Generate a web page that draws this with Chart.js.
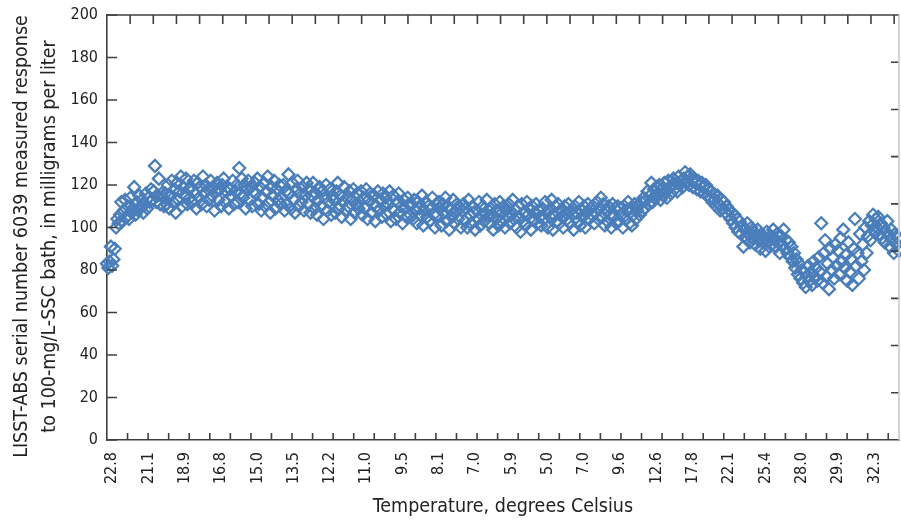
<!DOCTYPE html>
<html>
<head>
<meta charset="utf-8">
<script src="https://cdn.jsdelivr.net/npm/chart.js@4"></script>
<style>
  html, body { margin: 0; padding: 0; background: #fff; }
</style>
</head>
<body>
<canvas id="chart" width="901" height="520"></canvas>
<script>
// temperature labels shown under the axis (every labelEvery-th reading)
const tempLabels = ['22.8', '21.1', '18.9', '16.8', '15.0', '13.5', '12.2', '11.0', '9.5', '8.1', '7.0',
    '5.9', '5.0', '7.0', '9.6', '12.6', '17.8', '22.1', '25.4', '28.0', '29.9', '32.3']

// measured response, mg/L, in reading order
const response = [
    83, 81, 84, 91, 82, 85, 90, 100, 104, 102,
    106, 112, 103, 108, 113, 105, 110, 104, 114, 107,
    109, 119, 106, 112, 108, 115, 110, 113, 107, 111, 116, 109, 114, 112, 118,
    113, 117, 129, 112, 115, 123, 111, 116, 114, 110,
    116, 111, 120, 109, 115, 122, 112, 118, 107, 121, 113, 117, 124, 110, 119, 115, 123, 111, 118, 114,
    119, 112, 122, 116, 109, 121, 114, 119, 111, 124, 116, 120, 110, 118, 113, 122, 115, 119, 108, 117,
    121, 113, 118, 110, 120, 123, 112, 117, 119, 109, 118, 115, 122, 111, 117,
    120, 112, 128, 116, 123, 114, 120, 109, 118, 122, 113, 119, 110, 117, 121,
    116, 123, 111, 119, 108, 114, 121, 110, 117, 124, 112, 107, 119, 115, 122, 109, 118, 113, 120, 111,
    114, 120, 108, 117, 111, 125, 116, 109, 121, 113, 107, 118, 122, 110, 116, 112, 119, 108, 115, 121,
    111, 118, 107, 115, 121, 109, 116, 106, 113, 119, 110, 117, 104, 114, 120, 108, 112, 118, 106, 115,
    113, 107, 117, 121, 109, 115, 105, 112, 119, 108, 114, 110, 117, 104, 113, 118, 107, 111, 116, 109,
    112, 117, 106, 114, 109, 118, 104, 113, 116, 107, 111, 115, 103, 110, 117, 108, 113, 105, 116, 110,
    114, 106, 111, 117, 103, 109, 115, 108, 104, 112, 116, 107, 110, 102, 113, 109, 105, 114, 111, 106,
    111, 104, 113, 108, 102, 112, 109, 106, 115, 101, 108, 112, 105, 110, 103, 109, 114, 106, 100, 111,
    106, 112, 109, 101, 111, 107, 114, 103, 110, 99, 108, 105, 113, 102, 107, 111, 104, 109, 100, 108,
    111, 103, 109, 100, 113, 106, 102, 110, 107, 99, 108, 104, 112, 101, 106, 110, 103, 107, 113, 105,
    102, 109, 106, 99, 111, 104, 108, 101, 112, 103, 107, 110, 100, 108, 105, 111, 102, 106, 113, 104,
    108, 100, 110, 105, 98, 111, 103, 107, 101, 112, 106, 109, 99, 110, 104, 107, 111, 102, 108, 105,
    101, 109, 104, 112, 107, 100, 108, 105, 113, 99, 106, 110, 103, 111, 102, 108, 105, 100, 110, 107,
    104, 111, 102, 108, 106, 99, 110, 107, 103, 112, 101, 108, 105, 110, 100, 107, 111, 104, 109, 106,
    110, 102, 107, 112, 104, 109, 114, 105, 111, 101, 108, 103, 110, 106, 100, 111, 105, 109, 102, 110,
    103, 109, 106, 100, 110, 104, 108, 112, 102, 109, 101, 106, 111, 104, 108,
    110, 106, 112, 108, 114, 109, 113, 117, 111, 115, 121, 112, 118, 114, 119,
    116, 120, 113, 118, 115, 121, 117, 114, 122, 119, 116, 120, 123, 118, 121, 117, 124, 120, 122, 119,
    123, 126, 121, 124, 120, 125, 122, 119, 123, 121, 118, 122, 120, 117, 121,
    119, 116, 120, 115, 118, 114, 117, 112, 116, 113, 110, 115, 111, 108, 113, 109, 112, 107, 110, 106,
    108, 104, 107, 102, 106, 100, 104, 98, 103, 97, 101, 91, 99, 95, 102,
    97, 93, 100, 95, 98, 92, 96, 99, 94, 90, 97, 93, 95, 89, 98, 94, 91, 96, 92, 99,
    95, 91, 97, 93, 88, 96, 92, 99, 90, 94, 88, 93, 86, 91, 84,
    88, 81, 85, 78, 83, 76, 80, 74, 79, 72, 77, 82, 75, 79, 73, 84, 77, 81, 75, 86,
    79, 102, 74, 88, 94, 77, 83, 71, 90, 80, 86, 76, 92, 82, 89,
    78, 95, 84, 99, 81, 87, 75, 93, 79, 85, 73, 90, 104, 82, 88,
    76, 97, 84, 92, 80, 100, 88, 96, 103, 94, 101, 106, 98, 104, 100,
    105, 97, 102, 95, 100, 93, 98, 103, 96, 91, 99, 94, 88, 97, 92, 95, 89
]

const yTicks = [0, 20, 40, 60, 80, 100, 120, 140, 160, 180, 200]
const yTitleLines = ['LISST-ABS serial number 6039 measured response',
    'to 100-mg/L-SSC bath, in milligrams per liter']

const labelStart = 4
const labelEvery = 28
const bottomTickEvery = 15.86
const topTickEvery = 17.86
const rightTickCount = 9

const categories = response.map((v, i) => {
    const k = (i - labelStart) / labelEvery
    return (i >= labelStart && Number.isInteger(k)) ? tempLabels[k] : ''
})

const fontFamily = '"DejaVu Sans Condensed", "DejaVu Sans", sans-serif'
const blue = '#4a7ebb'
const axisColor = '#3f3f3f'
const textColor = '#222'

// little inside tick marks on all four sides, the top and right frame,
// and the two-line y title (sits a bit below the plot centre in the original)
const frameTicks = {
    id: 'frameTicks',
    afterDraw(chart) {
        const { ctx, chartArea: a, scales: { x, y } } = chart
        ctx.save()
        ctx.lineWidth = 1.6
        ctx.strokeStyle = axisColor

        ctx.beginPath()
        ctx.moveTo(a.left, a.top)
        ctx.lineTo(a.right, a.top)
        ctx.stroke()

        ctx.beginPath()
        yTicks.forEach(v => {
            const py = y.getPixelForValue(v)
            ctx.moveTo(a.left, py)
            ctx.lineTo(a.left + 10, py)
        })
        const last = response.length - 1
        for (let v = bottomTickEvery; v < last - 2; v += bottomTickEvery) {
            const px = x.getPixelForValue(v)
            ctx.moveTo(px, a.bottom)
            ctx.lineTo(px, a.bottom - 7)
        }
        for (let v = topTickEvery; v < last; v += topTickEvery) {
            const px = x.getPixelForValue(v)
            ctx.moveTo(px, a.top)
            ctx.lineTo(px, a.top + 9)
        }
        for (let k = 1; k < rightTickCount; k++) {
            const py = y.getPixelForValue(200 * k / rightTickCount)
            ctx.moveTo(a.right, py)
            ctx.lineTo(a.right - 8, py)
        }
        ctx.stroke()

        ctx.strokeStyle = '#c8c8c8'
        ctx.beginPath()
        ctx.moveTo(a.right, a.top)
        ctx.lineTo(a.right, a.bottom)
        ctx.stroke()

        ctx.fillStyle = textColor
        ctx.font = '19.5px ' + fontFamily
        ctx.textAlign = 'center'
        ctx.textBaseline = 'middle'
        ctx.translate(0, (a.top + a.bottom) / 2 + 9)
        ctx.rotate(-Math.PI / 2)
        yTitleLines.forEach((line, i) => ctx.fillText(line, 0, 22 + i * 28))
        ctx.restore()
    }
}

new Chart(document.getElementById('chart'), {
    type: 'line',
    data: {
        labels: categories,
        datasets: [{
            data: response,
            showLine: false,
            pointStyle: 'rectRot',
            pointRadius: 6,
            pointHoverRadius: 6,
            pointBorderWidth: 2.2,
            pointBorderColor: blue,
            pointBackgroundColor: 'rgba(0,0,0,0)',
            clip: false
        }]
    },
    options: {
        responsive: false,
        animation: false,
        devicePixelRatio: 1,
        layout: { autoPadding: false, padding: { top: 15, right: 2, left: 0, bottom: 0 } },
        plugins: {
            legend: { display: false },
            tooltip: { enabled: false }
        },
        scales: {
            x: {
                type: 'category',
                offset: false,
                grid: { display: false, drawTicks: false },
                border: { display: true, color: axisColor, width: 1.6 },
                ticks: {
                    autoSkip: false,
                    minRotation: 90,
                    maxRotation: 90,
                    padding: 12,
                    color: textColor,
                    font: { family: fontFamily, size: 16 }
                },
                title: {
                    display: true,
                    text: 'Temperature, degrees Celsius',
                    color: textColor,
                    font: { family: fontFamily, size: 19.5 },
                    padding: { top: 0, bottom: 1 }
                },
                afterFit(scale) {
                    scale.height = 80
                    scale.paddingLeft = 0
                    scale.paddingRight = 0
                }
            },
            y: {
                min: 0,
                max: 200,
                grid: { display: false, drawTicks: false },
                border: { display: true, color: axisColor, width: 1.6 },
                afterBuildTicks(scale) { scale.ticks = yTicks.map(v => ({ value: v })) },
                ticks: {
                    padding: 9,
                    color: textColor,
                    font: { family: fontFamily, size: 16 }
                },
                afterFit(scale) {
                    scale.width = 107
                    scale.paddingTop = 0
                    scale.paddingBottom = 0
                }
            }
        }
    },
    plugins: [frameTicks]
})
</script>
</body>
</html>
